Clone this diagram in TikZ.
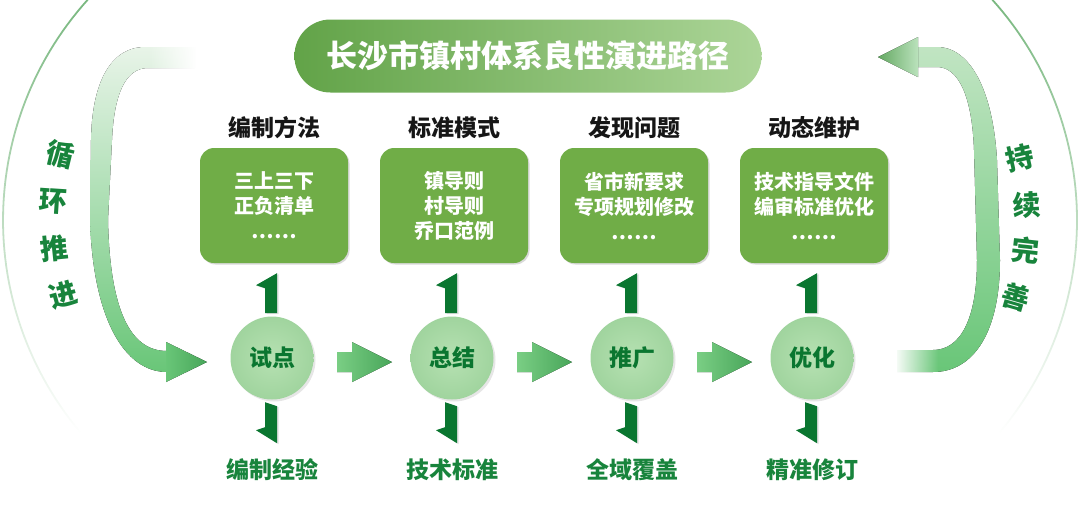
\documentclass[tikz,border=0pt]{standalone}
\usepackage{fontspec}
\setmainfont{Noto Sans CJK SC}
\usetikzlibrary{positioning,calc,shadows,fadings}

\definecolor{boxgreen}{RGB}{112,173,71}
\definecolor{darkgreen}{RGB}{10,118,48}
\definecolor{labelgreen}{RGB}{24,132,60}
\definecolor{headblack}{RGB}{22,22,22}
\definecolor{stagein}{RGB}{182,225,178}
\definecolor{stageout}{RGB}{160,212,158}
\definecolor{titleleft}{RGB}{98,163,72}
\definecolor{titleright}{RGB}{172,213,152}
\definecolor{flowlight}{RGB}{122,206,132}
\definecolor{flowdark}{RGB}{72,166,90}
\definecolor{bandpale}{RGB}{232,244,232}
\definecolor{bandmid}{RGB}{186,226,188}
\definecolor{bandgreen}{RGB}{105,198,120}
\definecolor{tipgreen}{RGB}{100,168,98}
\definecolor{rimgreen}{RGB}{48,145,58}

\tikzfading[name=fadeinright, left color=transparent!100, right color=transparent!0]
\tikzfading[name=fadeinleft, left color=transparent!0, right color=transparent!100]
\tikzfading[name=rimfade, top color=transparent!35, middle color=transparent!0, bottom color=transparent!100]

\begin{document}
\begin{tikzpicture}[
  x=1pt, y=-1pt,
  banner/.style={rounded corners=36pt,minimum width=467pt,minimum height=73pt,left color=titleleft,right color=titleright,text=white,font=\fontsize{31}{31}\selectfont\bfseries},
  colhead/.style={inner sep=0pt,text=headblack,font=\fontsize{23}{23}\selectfont\bfseries},
  card/.style={rounded corners=14pt,fill=boxgreen,minimum width=148pt,minimum height=115pt,align=center,text=white,font=\fontsize{20}{25}\selectfont\bfseries,
    drop shadow={opacity=.3,shadow xshift=1.5pt,shadow yshift=-1.5pt}},
  stage/.style={circle,minimum size=83pt,inner sep=0pt,inner color=stagein,outer color=stageout,text=darkgreen,font=\fontsize{23}{23}\selectfont\bfseries,
    drop shadow={opacity=.2,shadow xshift=2pt,shadow yshift=-2pt}},
  outcome/.style={inner sep=0pt,text=labelgreen,font=\fontsize{23}{23}\selectfont\bfseries},
  sidetext/.style={inner sep=0pt,text=labelgreen,font=\fontsize{28}{28}\selectfont\bfseries},
  rim/.style={draw=rimgreen,line width=1.8pt,path fading=rimfade},
  flowarrow/.pic={\fill[left color=flowlight,right color=flowdark] (-25,-10) -- (-10,-10) -- (-10,-20) -- (30,0) -- (-10,20) -- (-10,10) -- (-25,10) -- cycle;},
  liftarrow/.pic={\fill[darkgreen,drop shadow={opacity=.25,shadow xshift=1.5pt,shadow yshift=-1pt}] (5,-20) -- (-16,-8) -- (-7,-5) -- (-7,20) -- (5,20) -- cycle;},
  droparrow/.pic={\fill[darkgreen,drop shadow={opacity=.25,shadow xshift=1.5pt,shadow yshift=-1pt}] (-7,-20) -- (5,-16) -- (5,21) -- (-16,8) -- (-7,5) -- cycle;}
]
\useasboundingbox (0,0) rectangle (1080,507);

% outer thin rims
\draw[rim] plot[domain=140:222,samples=60] ({333+330*cos(\x)},{220+330*sin(\x)});
\draw[rim] plot[domain=-42:40,samples=60] ({747+330*cos(\x)},{220+330*sin(\x)});

% left loop band
\fill[top color=bandpale,middle color=bandmid,bottom color=bandgreen]
  (195,47) -- (145,47) .. controls (112,47) and (92,80) .. (91,140) -- (90,220)
  .. controls (93,320) and (125,372) .. (167,372) -- (167,351)
  .. controls (130,351) and (110,310) .. (108,220) -- (112,140)
  .. controls (114,95) and (125,68) .. (148,68) -- (195,68) -- cycle;
\fill[left color=bandgreen,right color=flowdark] (166,342) -- (207,362) -- (166,382) -- cycle;
\fill[white,path fading=fadeinright] (148,40) rectangle (196,76);

% right loop band
\fill[top color=bandmid!85!bandpale,bottom color=bandgreen]
  (897,372) -- (933,372) .. controls (975,372) and (1000,330) .. (1000,260) -- (997,160)
  .. controls (993,90) and (970,47) .. (937,47) -- (918,47) -- (918,67) -- (937,67)
  .. controls (958,67) and (972,95) .. (974,150) -- (977,260)
  .. controls (977,320) and (960,350) .. (933,350) -- (897,350) -- cycle;
\fill[left color=tipgreen,right color=bandmid] (918,37) -- (878,57) -- (918,77) -- cycle;
\fill[white,path fading=fadeinleft] (894,345) rectangle (938,378);

% title
\node[banner] (ttl) at (528,56) {长沙市镇村体系良性演进路径};

% boxes
\node[card] (b1) at (274,205.5) {三上三下\\正负清单\\……};
\node[card] (b2) at (454,205.5) {镇导则\\村导则\\乔口范例};
\node[card] (b3) at (634,205.5) {省市新要求\\专项规划修改\\……};
\node[card] (b4) at (814,205.5) {技术指导文件\\编审标准优化\\……};

\node[colhead,above=9pt of b1] (h1) {编制方法};
\node[colhead,above=9pt of b2] (h2) {标准模式};
\node[colhead,above=9pt of b3] (h3) {发现问题};
\node[colhead,above=9pt of b4] (h4) {动态维护};

% stages
\node[stage] (c1) at (272,358) {试点};
\node[stage] (c2) at (452,358) {总结};
\node[stage] (c3) at (632,358) {推广};
\node[stage] (c4) at (812,358) {优化};

\node[outcome,below=59pt of c1] (o1) {编制经验};
\node[outcome,below=59pt of c2] (o2) {技术标准};
\node[outcome,below=59pt of c3] (o3) {全域覆盖};
\node[outcome,below=59pt of c4] (o4) {精准修订};

% arrows between stages
\pic at ($(c1.east)!.5!(c2.west)+(0,4)$) {flowarrow};
\pic at ($(c2.east)!.5!(c3.west)+(0,4)$) {flowarrow};
\pic at ($(c3.east)!.5!(c4.west)+(0,4)$) {flowarrow};

% up and down arrows
\pic at ($(c1 |- b1.south)+(0,30)$) {liftarrow};
\pic at ($(c2 |- b2.south)+(0,30)$) {liftarrow};
\pic at ($(c3 |- b3.south)+(0,30)$) {liftarrow};
\pic at ($(c4 |- b4.south)+(0,30)$) {liftarrow};
\pic at ($(c1.south)+(0,22.5)$) {droparrow};
\pic at ($(c2.south)+(0,22.5)$) {droparrow};
\pic at ($(c3.south)+(0,22.5)$) {droparrow};
\pic at ($(c4.south)+(0,22.5)$) {droparrow};

% side words
\node[sidetext,rotate=-13.5] (l1) at ($(333,220)+(193.5:280)$) {循};
\node[sidetext,rotate=-3.8] (l2) at ($(333,220)+(183.8:280)$) {环};
\node[sidetext,rotate=5.8] (l3) at ($(333,220)+(174.2:280)$) {推};
\node[sidetext,rotate=15.5] (l4) at ($(333,220)+(164.5:280)$) {进};
\node[sidetext,rotate=12.8] (r1) at ($(747,220)+(-12.8:280)$) {持};
\node[sidetext,rotate=3] (r2) at ($(747,220)+(-3:280)$) {续};
\node[sidetext,rotate=-6.2] (r3) at ($(747,220)+(6.2:280)$) {完};
\node[sidetext,rotate=-16] (r4) at ($(747,220)+(16:280)$) {善};
\end{tikzpicture}
\end{document}
